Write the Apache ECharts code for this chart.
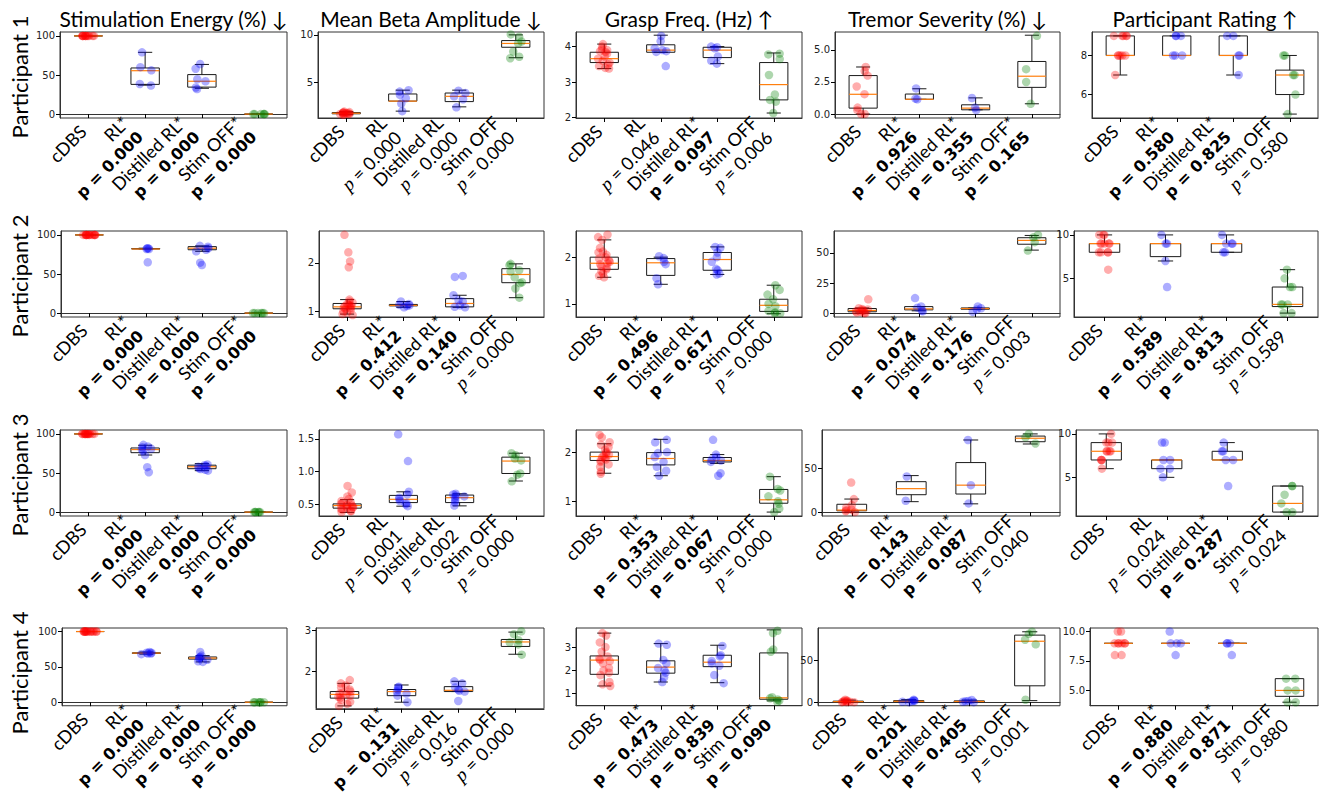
<!DOCTYPE html>
<html><head><meta charset="utf-8">
<script src="https://cdn.jsdelivr.net/npm/echarts@6/dist/echarts.min.js"></script>
<style>html,body{margin:0;padding:0;background:#fff}#c{width:1320px;height:801px}</style>
</head><body><div id="c"></div>
<script>
// ---------------- DATA ----------------
const categories = ['cDBS', 'RL', 'Distilled RL', 'Stim OFF'];
const metricTitles = ['Stimulation Energy (%) ↓', 'Mean Beta Amplitude ↓', 'Grasp Freq. (Hz) ↑', 'Tremor Severity (%) ↓', 'Participant Rating ↑'];
const participants = ['Participant 1', 'Participant 2', 'Participant 3', 'Participant 4'];

// Participant 1 : points per group, box stats [low whisker, Q1, median, Q3, high whisker]
const p1EnergyPts = [[100,100,100,100,100,100,100,100,100,100,100,100],[79,60,56,38.5,36.5],[64,58,44.5,42,34,32],[0,0,0,0,0,0]];
const p1EnergyBox = [[100,100,100,100,100],[37,38,55.5,59,79],[33,34.5,42,50.5,63.5],[0,0,0,0,0]];
const p1BetaPts = [[1.95,1.9,1.85,1.85,1.8,1.8,1.75,1.75,1.7,1.7,1.65,1.62],[4.2,4.05,3.7,3.35,2.8,2.0],[4.15,3.9,3.55,3.25,2.4],[10.05,9.8,9.3,9.1,8.25,7.7,7.55]];
const p1BetaBox = [[1.62,1.72,1.78,1.85,1.95],[2.0,3.05,3.05,3.8,4.2],[2.45,3.0,3.55,3.9,4.2],[7.6,8.7,9.1,9.4,10.0]];
const p1GraspPts = [[4.07,4.0,3.92,3.9,3.87,3.85,3.8,3.72,3.66,3.6,3.55,3.5,3.45,3.4,3.38],[4.3,4.15,3.95,3.9,3.87,3.85,3.45],[4.0,3.98,3.95,3.72,3.6,3.52],[3.8,3.78,3.65,3.2,2.65,2.5,2.45,2.13]];
const p1GraspBox = [[3.38,3.55,3.66,3.84,4.07],[3.84,3.84,3.9,4.05,4.32],[3.52,3.69,3.9,3.98,4.0],[2.13,2.5,2.93,3.55,3.82]];
const p1TremorPts = [[3.67,3.35,3.0,2.15,1.55,0.5,0.3,0.0,0.0],[2.0,1.2,1.15],[1.25,0.5,0.3],[6.1,3.5,2.5,0.8]];
const p1TremorBox = [[0,0.46,1.54,3.0,3.67],[1.15,1.15,1.15,1.56,1.97],[0.33,0.33,0.46,0.72,1.26],[0.8,2.08,2.95,4.1,6.15]];
const p1RatingPts = [[9,9,9,9,9,8,8,8,8,8,7],[9,9,9,8,8,8],[9,9,8,8,7],[8,8,7,7,6,5]];
const p1RatingBox = [[7,8,8,9,9],[8,8,8,9,9],[7,8,8,9,9],[5,6,7,7.25,8]];

// Participant 2
const p2EnergyPts = [[100,100,100,100,100,100,100,100,100,100,100,100,100,100],[83,83,82,82,65],[86,85,83,81,79,64.5,61.5],[0,0,0,0,0,0]];
const p2EnergyBox = [[100,100,100,100,100],[82,82,82,82.5,83],[79,81,83,85,86],[0,0,0,0,0]];
const p2BetaPts = [[2.58,2.22,2.03,1.91,1.24,1.2,1.18,1.15,1.13,1.12,1.1,1.1,1.08,1.07,1.05,1.03,1.0,0.97,0.94,0.92],[1.2,1.15,1.13,1.12,1.11,1.08],[1.73,1.71,1.33,1.23,1.2,1.12,1.09,1.08],[1.98,1.95,1.85,1.82,1.7,1.6,1.58,1.47,1.28]];
const p2BetaBox = [[0.94,1.05,1.09,1.16,1.24],[1.08,1.11,1.12,1.14,1.2],[1.08,1.09,1.16,1.26,1.33],[1.28,1.59,1.76,1.88,1.98]];
const p2GraspPts = [[2.48,2.43,2.37,2.2,2.12,2.1,2.05,2.0,1.97,1.93,1.9,1.87,1.85,1.8,1.77,1.74,1.7,1.65,1.6,1.57],[2.02,1.98,1.9,1.85,1.55,1.42],[2.22,2.2,2.1,2.0,1.9,1.75,1.72,1.65,1.63],[1.4,1.3,1.2,1.1,1.0,0.95,0.85,0.82,0.8,0.8]];
const p2GraspBox = [[1.57,1.74,1.87,2.0,2.37],[1.42,1.61,1.88,1.97,2.0],[1.63,1.72,1.95,2.1,2.22],[0.79,0.84,0.97,1.1,1.4]];
const p2TremorPts = [[11.5,4,3.5,3,2.5,2,1.5,1,0.5,0,0],[12.5,5.5,4.5,2,1.5],[5.5,4,3,1],[65,63,59,52]];
const p2TremorBox = [[0,1.1,2.2,3.8,4.3],[1.9,2.7,3.5,5.4,5.4],[3.2,3.2,3.8,4.3,4.3],[52.4,57.3,60.5,62.7,64.6]];
const p2RatingPts = [[10,10,10,9,9,9,9,9,8,8,8,8,6],[10,9,9,7,4],[10,9,9,9,8,8],[6,5,4,4,2,2,2,1,1]];
const p2RatingBox = [[8,8,9,9,10],[7,7.5,9,9,10],[8,8,9,9,10],[1,1.75,2,4,6]];

// Participant 3
const p3EnergyPts = [[100,100,100,100,100,100,100,100,100,100,100,100,100,100],[86,84,83,81,80,78,73,57.5,51],[61,60,59,58,56,55,54,53],[0,0,0,0,0,0]];
const p3EnergyBox = [[100,100,100,100,100],[73,76,80,82,85.5],[53,55.5,58,60,62],[0,0,0,0,0]];
const p3BetaPts = [[0.78,0.68,0.62,0.58,0.55,0.53,0.52,0.5,0.49,0.48,0.47,0.46,0.45,0.44,0.43,0.42,0.4,0.39,0.38],[1.57,1.16,0.69,0.65,0.6,0.58,0.55,0.52,0.5,0.47],[0.66,0.65,0.63,0.62,0.6,0.56,0.53,0.48],[1.28,1.25,1.2,1.17,0.97,0.95,0.85]];
const p3BetaBox = [[0.375,0.44,0.48,0.505,0.57],[0.47,0.525,0.575,0.635,0.69],[0.475,0.525,0.6,0.64,0.66],[0.855,0.97,1.16,1.22,1.28]];
const p3GraspPts = [[2.35,2.3,2.2,2.15,2.1,2.05,2.0,1.97,1.95,1.92,1.9,1.88,1.85,1.83,1.8,1.75,1.7,1.6,1.56],[2.25,2.2,2.0,1.98,1.9,1.8,1.7,1.62,1.52],[2.25,1.95,1.9,1.85,1.83,1.8,1.57,1.52],[1.5,1.25,1.22,1.1,1.0,0.95,0.85,0.78]];
const p3GraspBox = [[1.57,1.83,1.91,2.0,2.17],[1.52,1.74,1.87,1.99,2.26],[1.77,1.8,1.83,1.89,1.95],[0.78,0.96,1.03,1.24,1.5]];
const p3TremorPts = [[34,15,8,5,3,2,1,0],[41,13],[83,31,10],[90,86,79]];
const p3TremorBox = [[0,1.5,2.3,9,15],[12,20,27,35,42],[9.5,20.8,31,57,83],[78.4,81,85,87.5,90]];
const p3RatingPts = [[10,9,9,9,8,8,8,8,7,7,7,6],[9,9,7,7,6,6,5],[9,8,8,7,7,4],[4,4,3,2,1,1]];
const p3RatingBox = [[6,7,8,9,10],[5,6,7,7,7],[7,7,7,8,9],[1,1,2,4,4]];

// Participant 4
const p4EnergyPts = [[100,100,100,100,100,100,100,100,100,100,100,100,100,100],[71,70,70,69,69,68],[71,66,64,63,62,60,58,57],[0,0,0,0,0,0]];
const p4EnergyBox = [[100,100,100,100,100],[68,69,69.5,70,71],[57,61,62.5,64,66],[0,0,0,0,0]];
const p4BetaPts = [[1.78,1.7,1.65,1.6,1.55,1.5,1.47,1.45,1.43,1.4,1.37,1.35,1.3,1.25,1.2,1.15],[1.62,1.6,1.55,1.5,1.45,1.4,1.24],[1.75,1.7,1.6,1.55,1.52,1.5,1.27],[2.97,2.9,2.75,2.7,2.65,2.4]];
const p4BetaBox = [[1.15,1.34,1.43,1.5,1.7],[1.24,1.4,1.5,1.55,1.66],[1.5,1.5,1.53,1.62,1.75],[2.41,2.6,2.71,2.77,2.95]];
const p4GraspPts = [[3.6,3.5,3.2,3.0,2.8,2.6,2.5,2.45,2.4,2.3,2.1,2.0,1.9,1.8,1.5,1.4,1.33],[3.15,3.1,2.45,2.3,2.1,2.0,1.9,1.7,1.5],[3.05,2.65,2.6,2.4,2.3,2.2,1.8,1.45],[3.7,3.6,2.9,2.8,0.85,0.8,0.75,0.7,0.65]];
const p4GraspBox = [[1.33,1.83,2.44,2.62,3.6],[1.5,1.88,2.14,2.41,3.15],[1.47,2.16,2.35,2.65,3.08],[0.69,0.76,0.82,2.75,3.74]];
const p4TremorPts = [[3,2,1.5,1,0.5,0.5,0,0,0],[3,2,1.5,1,0.5,0],[2.5,1.5,1,0.5,0],[84,81.5,74.5,69,2.8]];
const p4TremorBox = [[0,0.2,0.6,1.2,2.5],[0,0.5,1,1.8,3],[0,0.3,0.8,1.5,2.5],[1.8,19.5,72.7,80,84]];
const p4RatingPts = [[10,10,9,9,9,9,9,9,8,8],[10,9,9,9,8],[9,9,9,8],[6,6,5,5,4,4]];
const p4RatingBox = [[9,9,9,9,9],[9,9,9,9,9],[9,9,9,9,9],[4,4.5,5,6,6]];

// y-axis ranges and tick labels per participant (5 metrics each)
const p1YRange = [[-5,105],[1.28,10.3],[1.99,4.41],[-0.31,6.4],[4.8,9.2]];
const p2YRange = [[-5,105],[0.88,2.66],[0.72,2.56],[-3.25,68.3],[0.55,10.45]];
const p3YRange = [[-5,105],[0.32,1.635],[0.70,2.45],[-4.5,94.5],[0.55,10.45]];
const p4YRange = [[-5,105],[1.08,3.05],[0.48,3.82],[-4.3,88.5],[3.7,10.3]];
const p1YTicks = [['0','50','100'],['5','10'],['2','3','4'],['0.0','2.5','5.0'],['6','8']];
const p2YTicks = [['0','50','100'],['1','2'],['1','2'],['0','25','50'],['5','10']];
const p3YTicks = [['0','50','100'],['0.5','1.0','1.5'],['1','2'],['0','50'],['5','10']];
const p4YTicks = [['0','50','100'],['2','3'],['1','2','3'],['0','50'],['5.0','7.5','10.0']];

// p-values vs cDBS (RL, Distilled RL, Stim OFF) and whether marked * (bold)
const p1PValues = [['0.000','0.000','0.000'],['0.000','0.000','0.000'],['0.046','0.097','0.006'],['0.926','0.355','0.165'],['0.580','0.825','0.580']];
const p1Starred = [[1,1,1],[0,0,0],[0,1,0],[1,1,1],[1,1,0]];
const p2PValues = [['0.000','0.000','0.000'],['0.412','0.140','0.000'],['0.496','0.617','0.000'],['0.074','0.176','0.003'],['0.589','0.813','0.589']];
const p2Starred = [[1,1,1],[1,1,0],[1,1,0],[1,1,0],[1,1,0]];
const p3PValues = [['0.000','0.000','0.000'],['0.001','0.002','0.000'],['0.353','0.067','0.000'],['0.143','0.087','0.040'],['0.024','0.287','0.024']];
const p3Starred = [[1,1,1],[0,0,0],[1,1,0],[1,1,0],[0,1,0]];
const p4PValues = [['0.000','0.000','0.000'],['0.131','0.016','0.000'],['0.473','0.839','0.090'],['0.201','0.405','0.001'],['0.880','0.871','0.880']];
const p4Starred = [[1,1,1],[1,0,0],[1,1,1],[1,1,0],[1,1,0]];

// ---------------- ASSEMBLY ----------------
const allPts = [
  [p1EnergyPts,p1BetaPts,p1GraspPts,p1TremorPts,p1RatingPts],
  [p2EnergyPts,p2BetaPts,p2GraspPts,p2TremorPts,p2RatingPts],
  [p3EnergyPts,p3BetaPts,p3GraspPts,p3TremorPts,p3RatingPts],
  [p4EnergyPts,p4BetaPts,p4GraspPts,p4TremorPts,p4RatingPts]];
const allBox = [
  [p1EnergyBox,p1BetaBox,p1GraspBox,p1TremorBox,p1RatingBox],
  [p2EnergyBox,p2BetaBox,p2GraspBox,p2TremorBox,p2RatingBox],
  [p3EnergyBox,p3BetaBox,p3GraspBox,p3TremorBox,p3RatingBox],
  [p4EnergyBox,p4BetaBox,p4GraspBox,p4TremorBox,p4RatingBox]];
const allRange = [p1YRange,p2YRange,p3YRange,p4YRange];
const allTicks = [p1YTicks,p2YTicks,p3YTicks,p4YTicks];
const allP = [p1PValues,p2PValues,p3PValues,p4PValues];
const allStar = [p1Starred,p2Starred,p3Starred,p4Starred];

const FONT = 'Lato';
const colRight = [287,544,802,1060,1318];
const rowTop = [32,231,430,628];
const rowLeft = [[60,318,576,835,1092],[61,319,576,834,1074],[60,319,576,822,1076],[62,316,576,818,1090]];
const plotH = 86;
const pointColors = ['rgba(255,0,0,0.4)','rgba(0,0,255,0.4)','rgba(0,0,255,0.4)','rgba(0,128,0,0.4)'];

const PADR = 15, LH = 21, FS = 18, PB = 5;
const richStyles = {
  c: {fontFamily: FONT, fontSize: FS, color: '#000', lineHeight: LH, padding: [7, 11, 0, 0]},
  e: {fontFamily: FONT, fontSize: FS, color: '#000', lineHeight: LH, padding: [0, PADR, PB, 0]},
  b: {fontFamily: 'DejaVu Sans', fontSize: 16, fontWeight: 'bold', color: '#000', lineHeight: LH, padding: [0, PADR, PB, 0]},
  i: {fontFamily: 'Liberation Serif', fontStyle: 'italic', fontSize: 19, color: '#000', lineHeight: LH, padding: [0, 0, PB, 0]}
};

function xLabelText(r, c, idx) {
  if (idx === 0) return '{c|' + categories[0] + '}';
  const name = categories[idx];
  const p = allP[r][c][idx - 1];
  if (allStar[r][c][idx - 1]) return '{e|' + name + '*}\n{b|p = ' + p + '}';
  return '{e|' + name + '}\n{i|p}{e| = ' + p + '}';
}

function renderBox(params, api) {
  const x = api.value(0);
  const lo = api.coord([x, api.value(1)]);
  const q1 = api.coord([x, api.value(2)]);
  const md = api.coord([x, api.value(3)]);
  const q3 = api.coord([x, api.value(4)]);
  const hi = api.coord([x, api.value(5)]);
  const bw = api.size([1, 0])[0] * 0.5;
  const cx = lo[0];
  const cap = bw * 0.5;
  const ls = {stroke: '#1a1a1a', lineWidth: 1, fill: null};
  return {
    type: 'group',
    children: [
      {type: 'line', shape: {x1: cx, y1: q1[1], x2: cx, y2: lo[1]}, style: ls},
      {type: 'line', shape: {x1: cx, y1: q3[1], x2: cx, y2: hi[1]}, style: ls},
      {type: 'line', shape: {x1: cx - cap / 2, y1: lo[1], x2: cx + cap / 2, y2: lo[1]}, style: ls},
      {type: 'line', shape: {x1: cx - cap / 2, y1: hi[1], x2: cx + cap / 2, y2: hi[1]}, style: ls},
      {type: 'rect', shape: {x: cx - bw / 2, y: q3[1], width: bw, height: q1[1] - q3[1]}, style: {stroke: '#1a1a1a', lineWidth: 1, fill: 'rgba(0,0,0,0)'}},
      {type: 'line', shape: {x1: cx - bw / 2, y1: md[1], x2: cx + bw / 2, y2: md[1]}, style: {stroke: '#ff7f0e', lineWidth: 1.2}}
    ]
  };
}

const grids = [], xAxes = [], yAxes = [], series = [], graphics = [];
for (let r = 0; r < 4; r++) {
  for (let c = 0; c < 5; c++) {
    const k = r * 5 + c;
    const left = rowLeft[r][c];
    grids.push({left: left, top: rowTop[r], width: colRight[c] - left, height: plotH,
      show: true, borderColor: '#333', borderWidth: 1, backgroundColor: 'rgba(0,0,0,0)'});
    const rr = r, cc = c;
    xAxes.push({
      type: 'category', gridIndex: k, data: categories, boundaryGap: true,
      jitter: 13,
      axisLine: {show: true, lineStyle: {color: '#333', width: 1}},
      axisTick: {show: true, alignWithLabel: true, length: 4, lineStyle: {color: '#000'}},
      axisLabel: {interval: 0, rotate: 45, margin: 0, color: '#000',
        formatter: function (v, idx) { return xLabelText(rr, cc, idx); }, rich: richStyles},
      splitLine: {show: false}
    });
    const ticks = allTicks[r][c];
    const tickVals = ticks.map(Number);
    yAxes.push({
      type: 'value', gridIndex: k, min: allRange[r][c][0], max: allRange[r][c][1],
      axisLine: {show: true, lineStyle: {color: '#333', width: 1}},
      axisTick: {show: true, length: 4, customValues: tickVals, lineStyle: {color: '#000'}},
      axisLabel: {customValues: tickVals, fontFamily: 'DejaVu Sans', fontSize: 10, color: '#222', margin: 5,
        formatter: function (v) { const i = tickVals.findIndex(t => Math.abs(t - v) < 1e-9); return i >= 0 ? ticks[i] : ''; }},
      splitLine: {show: false}
    });
    const pts = [];
    allPts[r][c].forEach((g, gi) => g.forEach(v => pts.push([gi, v])));
    series.push({
      type: 'custom', xAxisIndex: k, yAxisIndex: k, silent: true, z: 2,
      data: allBox[r][c].map((b, gi) => [gi].concat(b)),
      encode: {x: 0, y: [1, 2, 3, 4, 5]},
      renderItem: renderBox
    });
    series.push({
      type: 'scatter', xAxisIndex: k, yAxisIndex: k, silent: true, z: 3,
      symbolSize: 8.5, data: pts,
      itemStyle: {color: function (p) { return pointColors[p.value[0]]; }}
    });
  }
}
// column titles
for (let c = 0; c < 5; c++) {
  const cx = (rowLeft[0][c] + colRight[c]) / 2;
  graphics.push({type: 'text', x: cx, y: 18,
    style: {text: metricTitles[c], textAlign: 'center', textVerticalAlign: 'middle', fontFamily: FONT, fontSize: 21, fill: '#000'}});
}
// row titles
for (let r = 0; r < 4; r++) {
  graphics.push({type: 'text', x: 19, y: rowTop[r] + plotH / 2 + 2, rotation: Math.PI / 2,
    style: {text: participants[r], textAlign: 'center', textVerticalAlign: 'middle', fontFamily: FONT, fontSize: 22, fill: '#000'}});
}

const chart = echarts.init(document.getElementById('c'), null, {renderer: 'svg', width: 1320, height: 801});
chart.setOption({
  animation: false,
  backgroundColor: '#fff',
  grid: grids, xAxis: xAxes, yAxis: yAxes, series: series, graphic: graphics
});
</script></body></html>
